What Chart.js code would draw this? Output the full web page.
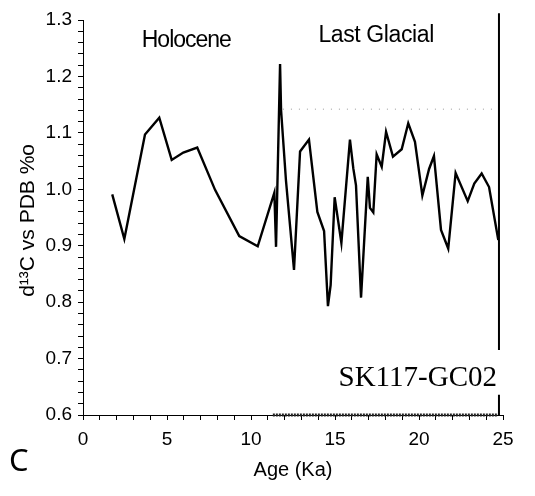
<!DOCTYPE html>
<html>
<head>
<meta charset="utf-8">
<script src="https://cdn.jsdelivr.net/npm/chart.js@4/dist/chart.umd.min.js"></script>
<style>
  html, body { margin: 0; padding: 0; background: #fff; }
  #wrap { width: 535px; height: 496px; }
</style>
</head>
<body>
<div id="wrap"><canvas id="chart" width="535" height="496"></canvas></div>
<script>
// age (Ka) and d13C values
const ages = [1.74, 2.46, 3.69, 4.54, 5.28, 5.97, 6.80, 7.86, 9.30, 10.40,
  11.39, 11.49, 11.73, 11.79, 12.08, 12.56, 12.92, 13.45, 13.95, 14.35,
  14.58, 14.74, 14.98, 15.38, 15.89, 16.09, 16.25, 16.55, 16.95, 17.08,
  17.28, 17.48, 17.78, 18.04, 18.45, 18.97, 19.36, 19.76, 20.20, 20.60,
  20.89, 21.31, 21.74, 22.18, 22.90, 23.29, 23.73, 24.17, 24.72];
const d13C = [0.991, 0.912, 1.097, 1.127, 1.052, 1.065, 1.074, 0.999, 0.917, 0.899,
  0.994, 0.898, 1.222, 1.140, 1.016, 0.857, 1.067, 1.088, 0.960, 0.926,
  0.793, 0.830, 0.986, 0.905, 1.088, 1.037, 1.007, 0.808, 1.022, 0.967,
  0.959, 1.062, 1.040, 1.102, 1.058, 1.071, 1.117, 1.084, 0.989, 1.036,
  1.059, 0.928, 0.895, 1.029, 0.979, 1.010, 1.028, 1.004, 0.910];

// core end marker and faint reference line
const coreEndAge = 24.76;
const coreEndTop = [1.312, 0.715];
const coreEndBottom = [0.636, 0.6];
const faintAges = [11.9, 24.5];
const faintLevel = 1.142;
const glacialBandAges = [11.3, 24.7];

const xTickLabels = ['0', '5', '10', '15', '20', '25'];
const yTickLabels = ['0.6', '0.7', '0.8', '0.9', '1.0', '1.1', '1.2', '1.3'];

const labels = [
  { text: 'Holocene', x: 6.15, y: 1.253, spacing: '-1px' },
  { text: 'Last Glacial', x: 17.45, y: 1.261, spacing: '-0.4px' }
];

const pts = ages.map((a, i) => ({ x: a, y: d13C[i] }));

const textPlugin = {
  id: 'texts',
  afterDraw(chart) {
    const ctx = chart.ctx;
    const xs = chart.scales.x, ys = chart.scales.y;
    ctx.save();
    ctx.fillStyle = '#000';
    ctx.textAlign = 'center';
    ctx.textBaseline = 'alphabetic';
    ctx.font = '23px "Liberation Sans", Arial, sans-serif';
    labels.forEach(l => {
      ctx.letterSpacing = l.spacing;
      ctx.fillText(l.text, xs.getPixelForValue(l.x), ys.getPixelForValue(l.y));
    });
    ctx.letterSpacing = '0px';
    ctx.font = '29px "Liberation Serif", "Times New Roman", serif';
    ctx.textAlign = 'right';
    ctx.fillText('SK117-GC02', xs.getPixelForValue(coreEndAge) - 2, ys.getPixelForValue(0.652));
    ctx.font = '31px "Noto Sans", "Open Sans", sans-serif';
    ctx.textAlign = 'left';
    ctx.textBaseline = 'middle';
    ctx.fillText('C', 9, 462);
    ctx.restore();
  }
};

new Chart(document.getElementById('chart').getContext('2d'), {
  type: 'scatter',
  data: {
    datasets: [
      {
        data: pts,
        showLine: true,
        borderColor: '#000',
        borderWidth: 2.4,
        pointRadius: 0,
        tension: 0
      },
      {
        data: [{ x: coreEndAge, y: coreEndTop[0] }, { x: coreEndAge, y: coreEndTop[1] }],
        showLine: true,
        borderColor: '#000',
        borderWidth: 2,
        pointRadius: 0,
        clip: false
      },
      {
        data: [{ x: coreEndAge, y: coreEndBottom[0] }, { x: coreEndAge, y: coreEndBottom[1] }],
        showLine: true,
        borderColor: '#000',
        borderWidth: 2,
        pointRadius: 0,
        clip: false
      },
      {
        data: [{ x: faintAges[0], y: faintLevel }, { x: faintAges[1], y: faintLevel }],
        showLine: true,
        borderColor: '#999',
        borderWidth: 1,
        borderDash: [1, 7],
        pointRadius: 0
      },
      {
        data: [{ x: glacialBandAges[0], y: 0.6 }, { x: glacialBandAges[1], y: 0.6 }],
        showLine: true,
        borderColor: '#222',
        borderWidth: 3,
        borderDash: [2, 1],
        pointRadius: 0,
        clip: false
      }
    ]
  },
  options: {
    responsive: false,
    animation: false,
    events: [],
    layout: { padding: { top: 20, right: 32, left: 0, bottom: 0 } },
    plugins: {
      legend: { display: false },
      tooltip: { enabled: false }
    },
    scales: {
      x: {
        type: 'linear',
        min: 0,
        max: 25,
        afterFit(scale) { scale.height = 81; },
        border: { display: true, color: '#000', width: 1 },
        grid: { drawOnChartArea: false, drawTicks: true, tickLength: 5, color: '#000' },
        ticks: {
          stepSize: 1,
          autoSkip: false,
          maxRotation: 0,
          padding: 8,
          color: '#000',
          font: { family: '"Liberation Sans", Arial, sans-serif', size: 19 },
          callback(v) {
            return (Math.round(v) % 5 === 0) ? xTickLabels[Math.round(v) / 5] : '';
          }
        },
        title: {
          display: true,
          text: 'Age (Ka)',
          color: '#000',
          font: { family: '"Liberation Sans", Arial, sans-serif', size: 20 },
          padding: { top: 0, bottom: 14 }
        }
      },
      y: {
        type: 'linear',
        min: 0.6,
        max: 1.3,
        afterFit(scale) { scale.width = 83; },
        border: { display: true, color: '#000', width: 1 },
        grid: { drawOnChartArea: false, drawTicks: true, tickLength: 5, color: '#000' },
        ticks: {
          stepSize: 0.02,
          autoSkip: false,
          padding: 6,
          color: '#000',
          font: { family: '"Liberation Sans", Arial, sans-serif', size: 19 },
          callback(v) {
            const k = Math.round(v * 10);
            return Math.abs(k - v * 10) < 1e-6 ? yTickLabels[k - 6] : '';
          }
        },
        title: {
          display: true,
          text: 'd\u00B9\u00B3C vs PDB %o ',
          color: '#000',
          font: { family: '"Liberation Sans", Arial, sans-serif', size: 21 },
          padding: { top: 16, bottom: 0 }
        }
      }
    }
  },
  plugins: [textPlugin]
});
</script>
</body>
</html>
